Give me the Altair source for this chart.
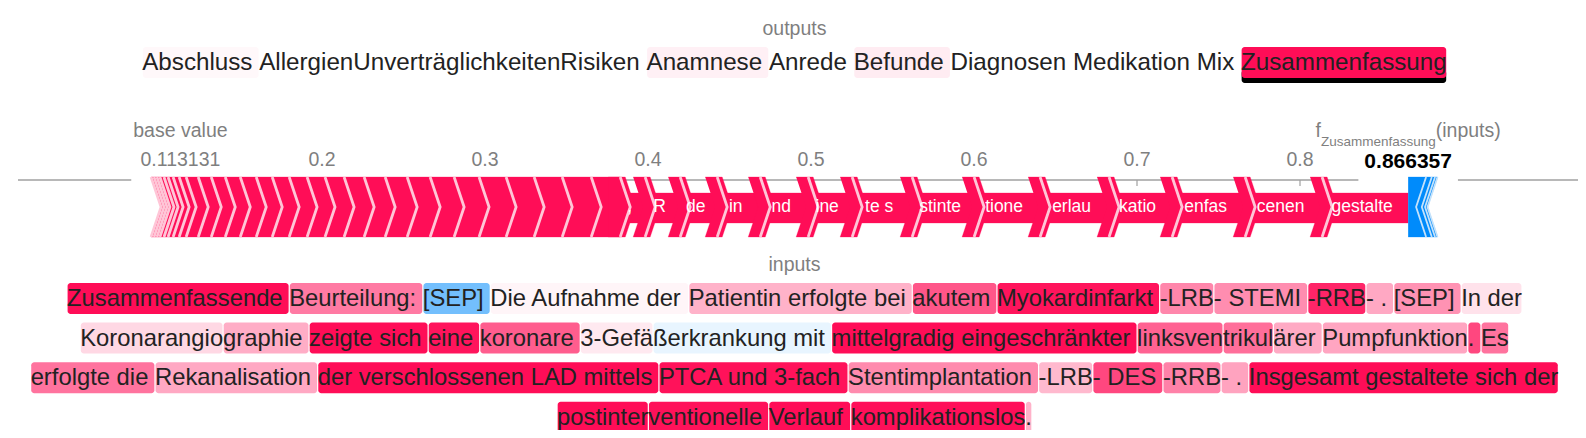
import altair as alt
import pandas as pd

# ------------------------------------------------------------------ data
output_names = ["Abschluss", "AllergienUnverträglichkeitenRisiken", "Anamnese",
                "Anrede", "Befunde", "Diagnosen", "Medikation", "Mix", "Zusammenfassung"]
output_values = [0.03, 0.0, 0.06, 0.0, 0.08, 0.0, 0.0, 0.0, 1.0]
selected_output = "Zusammenfassung"

base_value = 0.113131
f_value = 0.866357
tick_values = [0.2, 0.3, 0.4, 0.5, 0.6, 0.7, 0.8]

# positive contributions, in drawing order (left to right)
pos_shap = [0.0018, 0.0018, 0.0018, 0.0025, 0.0025, 0.0031, 0.0037, 0.0043,
            0.0074, 0.0080, 0.0086, 0.0092, 0.0098, 0.0098, 0.0104, 0.0110,
            0.0110, 0.0117, 0.0123, 0.0129, 0.0135, 0.0141, 0.0147, 0.0153,
            0.0166, 0.0172, 0.0172, 0.0178, 0.0178,
            0.0153, 0.0215, 0.0227, 0.0264, 0.0294, 0.0270, 0.0368, 0.0380,
            0.0405, 0.0423, 0.0387, 0.0448, 0.0472, 0.0528]
# visible labels of the largest (right-most) arrows
pos_labels = [",", "R", "de", "in", "nd", "ine", "te s", "stinte", "tione",
              "erlau", "katio", "enfas", "cenen", "gestalte"]
# negative contributions (absolute), from f(x) to the right
neg_shap = [0.0110, 0.0035, 0.0020, 0.0015]

input_line1 = ["Zusammenfassende ", "Beurteilung: ", "[SEP] ", "Die Aufnahme der ",
               "Patientin erfolgte bei ", "akutem ", "Myokardinfarkt ", "-LRB", "- STEMI ",
               "-RRB", "- . ", "[SEP] ", "In der"]
input_vals1 = [1.0, 0.55, -0.55, 0.04, 0.32, 0.70, 0.97, 0.50, 0.47, 0.90, 0.36, 0.45, 0.12]

input_line2 = ["Koronarangio", "graphie ", "zeigte sich ", "eine ", "koronare ", "3-Gefä",
               "ßerkrankung mit ", "mittelgradig eingeschränkter ", "linksven", "trikul",
               "ärer ", "Pumpfunktion", ". ", "Es"]
input_vals2 = [0.16, 0.34, 1.0, 0.97, 0.67, 0.09, -0.09, 1.0, 0.65, 0.60, 0.35, 0.37, 0.76, 0.58]

input_line3 = ["erfolgte die ", "Rekanalisation ", "der verschlossenen LAD mittels ",
               "PTCA und 3-fach ", "Stentimplantation ", "-LRB", "- DES ", "-RRB", "- . ",
               "Insgesamt gestaltete sich der"]
input_vals3 = [0.58, 0.36, 1.0, 0.98, 0.48, 0.29, 0.76, 0.52, 0.38, 1.0]

input_line4 = ["postinter", "ventionelle ", "Verlauf ", "komplikationslos", "."]
input_vals4 = [1.0, 0.98, 1.0, 0.99, 0.32]

# ------------------------------------------------------------------ style / layout
FONT = "Liberation Sans"
RED = "#ff0d57"
BLUE = "#008bfb"
PINK_LINE = "#ffc6d7"
BLUE_LINE = "#c4e2fb"
GREY = "#7f7f7f"
TEXT_DARK = "#222222"

VIEW_W, VIEW_H = 1570, 422
CX = 786.5
FS_TOKEN = 23.8
FS_OUT = 24.2
FS_LAB = 19.5
FS_SUB = 13.5
FS_BOLD = 21
FS_ARROW = 17.5

AXIS_MIN, AXIS_MAX = 0.007362, 0.970552
PX = (AXIS_MAX - AXIS_MIN) / VIEW_W
TIP = 10 * PX

AXIS_Y = 172
TOP, BOT, MID = 169, 229, 199
BT, BB = 185, 215

# Arial / Liberation Sans advance widths (1/1000 em)
W = {' ': 278, '!': 278, '(': 333, ')': 333, ',': 278, '-': 333, '.': 278, '/': 278,
     ':': 278, '[': 278, ']': 278,
     'A': 667, 'B': 667, 'C': 722, 'D': 722, 'E': 667, 'F': 611, 'G': 778, 'H': 722,
     'I': 278, 'J': 500, 'K': 667, 'L': 556, 'M': 833, 'N': 722, 'O': 778, 'P': 667,
     'Q': 778, 'R': 722, 'S': 667, 'T': 611, 'U': 722, 'V': 667, 'W': 944, 'X': 667,
     'Y': 667, 'Z': 611,
     'a': 556, 'b': 556, 'c': 500, 'd': 556, 'e': 556, 'f': 278, 'g': 556, 'h': 556,
     'i': 222, 'j': 222, 'k': 500, 'l': 222, 'm': 833, 'n': 556, 'o': 556, 'p': 556,
     'q': 556, 'r': 333, 's': 500, 't': 278, 'u': 556, 'v': 500, 'w': 722, 'x': 500,
     'y': 500, 'z': 500, 'ä': 556, 'ö': 556, 'ü': 556, 'ß': 611}
for dgt in "0123456789":
    W[dgt] = 556


def tw(s, size):
    return sum(W.get(c, 556) for c in s) * size / 1000.0


def layout_line(tokens, size, cx):
    widths = []
    for i, t in enumerate(tokens):
        s = t.rstrip() if i == len(tokens) - 1 else t
        widths.append(tw(s, size))
    x = cx - sum(widths) / 2
    res = []
    for w in widths:
        res.append((x, x + w))
        x += w
    return res


XP = alt.Scale(domain=[0, VIEW_W], nice=False, zero=False)
XV = alt.Scale(domain=[AXIS_MIN, AXIS_MAX], nice=False, zero=False)
YP = alt.Scale(domain=[0, VIEW_H], nice=False, zero=False, reverse=True)
CSCALE = alt.Scale(domain=[-1, 0, 1], range=[BLUE, "#ffffff", RED], interpolate="rgb")


def xp(f="x"):
    return alt.X(f"{f}:Q", scale=XP, axis=None)


def xv(f="x"):
    return alt.X(f"{f}:Q", scale=XV, axis=None)


def yp(f="y"):
    return alt.Y(f"{f}:Q", scale=YP, axis=None)


layers = []

# ------------------------------------------------------------------ outputs header
layers.append(alt.Chart(pd.DataFrame([{"x": CX, "y": 21, "t": "outputs"}])).mark_text(
    font=FONT, fontSize=FS_LAB, color=GREY, align="center", baseline="middle").encode(
    x=xp(), y=yp(), text="t:N"))

out_tokens = [n + " " for n in output_names[:-1]] + [output_names[-1]]
out_pos = layout_line(out_tokens, FS_OUT, CX)
out_rows = []
for name, tok, v, (x0, x1) in zip(output_names, out_tokens, output_values, out_pos):
    out_rows.append({"x0": x0 + 0.6, "x1": x1 - 0.6, "y0": 39, "y1": 70, "v": v,
                     "tx": x0, "ty": 55, "t": tok, "sel": name == selected_output,
                     "ub0": 62, "ub1": 75})
df_out = pd.DataFrame(out_rows)
layers.append(alt.Chart(df_out[df_out.sel]).mark_rect(color="black", cornerRadius=3).encode(
    x=xp("x0"), x2="x1:Q", y=yp("ub0"), y2="ub1:Q"))
layers.append(alt.Chart(df_out).mark_rect(cornerRadius=3).encode(
    x=xp("x0"), x2="x1:Q", y=yp("y0"), y2="y1:Q",
    color=alt.Color("v:Q", scale=CSCALE, legend=None)))
layers.append(alt.Chart(df_out).mark_text(
    font=FONT, fontSize=FS_OUT, color=TEXT_DARK, align="left", baseline="middle").encode(
    x=xp("tx"), y=yp("ty"), text="t:N"))

# ------------------------------------------------------------------ force plot axis
layers.append(alt.Chart(pd.DataFrame([{"x": AXIS_MIN + 10 * PX, "x2": AXIS_MAX, "y": AXIS_Y}])
                        ).mark_rule(color="#a0a0a0", strokeWidth=1.5).encode(
    x=xv(), x2="x2:Q", y=yp()))
df_ticks = pd.DataFrame({"x": tick_values, "y": AXIS_Y, "y2": AXIS_Y + 6,
                         "t": [f"{t:.1f}" for t in tick_values], "ly": 152})
layers.append(alt.Chart(df_ticks).mark_rule(color="#a0a0a0", strokeWidth=1.2).encode(
    x=xv(), y=yp(), y2="y2:Q"))

# white backgrounds behind the base-value and f(x) labels
base_w = max(tw("base value", FS_LAB), tw(f"{base_value:.6f}", FS_LAB))
f_w = tw(f"{f_value:.6f}", FS_BOLD)
df_bg = pd.DataFrame([
    {"x0": base_value - (base_w / 2 + 2) * PX, "x1": base_value + (base_w / 2 + 2) * PX,
     "y0": 110, "y1": 176},
    {"x0": f_value - (f_w / 2 + 6) * PX, "x1": f_value + (f_w / 2 + 6) * PX,
     "y0": 142, "y1": 176},
])
layers.append(alt.Chart(df_bg).mark_rect(color="white").encode(
    x=xv("x0"), x2="x1:Q", y=yp("y0"), y2="y1:Q"))

layers.append(alt.Chart(df_ticks).mark_text(
    font=FONT, fontSize=FS_LAB, color=GREY, align="center", baseline="middle").encode(
    x=xv(), y=yp("ly"), text="t:N"))

df_base = pd.DataFrame([{"x": base_value, "y": 123, "t": "base value"},
                        {"x": base_value, "y": 152, "t": f"{base_value:.6f}"}])
layers.append(alt.Chart(df_base).mark_text(
    font=FONT, fontSize=FS_LAB, color=GREY, align="center", baseline="middle").encode(
    x=xv(), y=yp(), text="t:N"))

sub = selected_output
w_f, w_sub, w_in = tw("f", FS_LAB), tw(sub, FS_SUB), tw("(inputs)", FS_LAB)
start = -(w_f + w_sub + w_in) / 2
df_flab = pd.DataFrame([
    {"x": f_value + start * PX, "y": 123, "t": "f", "fs": FS_LAB},
    {"x": f_value + (start + w_f) * PX, "y": 134, "t": sub, "fs": FS_SUB},
    {"x": f_value + (start + w_f + w_sub) * PX, "y": 123, "t": "(inputs)", "fs": FS_LAB},
])
layers.append(alt.Chart(df_flab).mark_text(
    font=FONT, color=GREY, align="left", baseline="middle").encode(
    x=xv(), y=yp(), text="t:N", size=alt.Size("fs:Q", scale=None)))
layers.append(alt.Chart(pd.DataFrame([{"x": f_value, "y": 154, "t": f"{f_value:.6f}"}])).mark_text(
    font=FONT, fontSize=FS_BOLD, fontWeight="bold", color="black", align="center",
    baseline="middle").encode(x=xv(), y=yp(), text="t:N"))

# ------------------------------------------------------------------ force plot arrows
red_start = f_value - sum(pos_shap)
edges = [red_start]
for v in pos_shap:
    edges.append(edges[-1] + v)
n = len(pos_shap)
first_lab = n - len(pos_labels)
is_lab = [i >= first_lab for i in range(n)]

full_poly, body_poly, stripe_poly, sep_rows, lab_rows = [], [], [], [], []


def add_pts(rows, gid, pts):
    for k, (x, y) in enumerate(pts):
        rows.append({"gid": str(gid), "k": k, "x": x, "y": y})


def chevron_right(l, r, top, bot, tip=True, notch=True):
    pts = [(l, top), (r, top)]
    if tip:
        pts.append((r + TIP, MID))
    pts += [(r, bot), (l, bot)]
    if notch:
        pts.append((l + TIP, MID))
    return pts


for i in range(n):
    l, r = edges[i], edges[i + 1]
    last = i == n - 1
    if not is_lab[i]:
        add_pts(full_poly, i, chevron_right(l, r, TOP, BOT, tip=not last))
    else:
        add_pts(body_poly, i, [(l, BT), (r, BT), (r, BB), (l, BB)])
        lab_rows.append({"x": (l + r) / 2 - 3 * PX, "y": MID, "t": pos_labels[i - first_lab]})
    if not last:
        if is_lab[i] or is_lab[i + 1]:
            add_pts(stripe_poly, i, chevron_right(r - 12 * PX, r + 5 * PX, TOP, BOT,
                                                  notch=is_lab[i]))
        add_pts(sep_rows, i, [(r, TOP), (r + TIP, MID), (r, BOT)])

add_pts(sep_rows, "left", [(edges[0], TOP), (edges[0] + TIP, MID), (edges[0], BOT)])

blue_poly, blue_sep = [], []
bedges = [f_value]
for v in neg_shap:
    bedges.append(bedges[-1] + v)
for j in range(len(neg_shap)):
    a, b = bedges[j], bedges[j + 1]
    pts = [(a, TOP), (b, TOP), (b - TIP, MID), (b, BOT), (a, BOT)]
    if j > 0:
        pts.append((a - TIP, MID))
    add_pts(blue_poly, j, pts)
    add_pts(blue_sep, j, [(b, TOP), (b - TIP, MID), (b, BOT)])


def poly_layer(rows, color):
    return alt.Chart(pd.DataFrame(rows)).mark_line(
        fill=color, stroke=color, strokeWidth=0.3, strokeJoin="miter", opacity=1).encode(
        x=xv(), y=yp(), detail="gid:N", order=alt.Order("k:Q"))


def line_layer(rows, color, width):
    return alt.Chart(pd.DataFrame(rows)).mark_line(
        color=color, strokeWidth=width, strokeJoin="miter", strokeCap="butt", opacity=1).encode(
        x=xv(), y=yp(), detail="gid:N", order=alt.Order("k:Q"))


layers.append(poly_layer(full_poly, RED))
layers.append(poly_layer(body_poly, RED))
layers.append(poly_layer(stripe_poly, RED))
layers.append(line_layer(sep_rows, PINK_LINE, 2.8))
layers.append(poly_layer(blue_poly, BLUE))
layers.append(line_layer(blue_sep, BLUE_LINE, 1.8))
layers.append(alt.Chart(pd.DataFrame(lab_rows)).mark_text(
    font=FONT, fontSize=FS_ARROW, color="white", align="center", baseline="middle").encode(
    x=xv(), y=yp(), text="t:N"))

# ------------------------------------------------------------------ inputs text
layers.append(alt.Chart(pd.DataFrame([{"x": CX, "y": 257, "t": "inputs"}])).mark_text(
    font=FONT, fontSize=FS_LAB, color=GREY, align="center", baseline="middle").encode(
    x=xp(), y=yp(), text="t:N"))

LINE_TOP0, LINE_PITCH, BOX_H = 275, 39.6, 31
in_rows = []
for li, (toks, vals) in enumerate([(input_line1, input_vals1), (input_line2, input_vals2),
                                    (input_line3, input_vals3), (input_line4, input_vals4)]):
    top = LINE_TOP0 + li * LINE_PITCH
    for tok, v, (x0, x1) in zip(toks, vals, layout_line(toks, FS_TOKEN, CX)):
        in_rows.append({"x0": x0 + 0.6, "x1": x1 - 0.6, "y0": top, "y1": top + BOX_H,
                        "v": v, "tx": x0, "ty": top + BOX_H / 2 + 0.5, "t": tok})
df_in = pd.DataFrame(in_rows)
layers.append(alt.Chart(df_in).mark_rect(cornerRadius=3).encode(
    x=xp("x0"), x2="x1:Q", y=yp("y0"), y2="y1:Q",
    color=alt.Color("v:Q", scale=CSCALE, legend=None)))
layers.append(alt.Chart(df_in).mark_text(
    font=FONT, fontSize=FS_TOKEN, color=TEXT_DARK, align="left", baseline="middle").encode(
    x=xp("tx"), y=yp("ty"), text="t:N"))

chart = alt.layer(*layers).properties(
    width=VIEW_W, height=VIEW_H, padding=0,
    autosize=alt.AutoSizeParams(type="none"), background="white",
).resolve_scale(x="independent").configure_view(stroke=None)

chart.save("out.html", embed_options={"renderer": "svg", "actions": False})
